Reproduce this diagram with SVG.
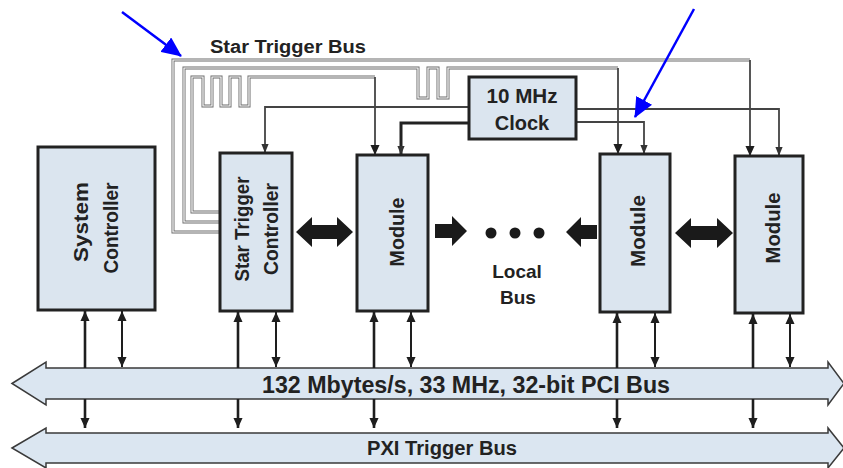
<svg xmlns="http://www.w3.org/2000/svg" width="843" height="468" viewBox="0 0 843 468">
<defs>
<marker id="ah" markerUnits="userSpaceOnUse" markerWidth="10" markerHeight="12" refX="11" refY="5" viewBox="0 0 11 10" orient="auto-start-reverse"><path d="M0,0 L11,5 L0,10 z" fill="#1e1e1e"/></marker>
<marker id="ahs" markerUnits="userSpaceOnUse" markerWidth="9" markerHeight="9" refX="10" refY="4" viewBox="0 0 10 8" orient="auto-start-reverse"><path d="M0,0 L10,4 L0,8 z" fill="#333"/></marker>
<marker id="blue" markerUnits="userSpaceOnUse" markerWidth="20" markerHeight="18" refX="19" refY="9" viewBox="0 0 20 18" orient="auto"><path d="M0,0 L20,9 L0,18 z" fill="#0000ff"/></marker>
</defs>
<style>
.box{fill:#dbe5ef;stroke:#222;stroke-width:3}
.bus{fill:#dbe6f1;stroke:#3a3a3a;stroke-width:1.5}
.t{font-family:"Liberation Sans",Arial,sans-serif;font-weight:bold;fill:#222}
.st{fill:none;stroke:#6a6a6a;stroke-width:3}
.sti{fill:none;stroke:#fff;stroke-width:1.2}
.drop{fill:none;stroke:#444;stroke-width:1.8;marker-end:url(#ah)}
.clk{fill:none;stroke:#444;stroke-width:1.8;marker-end:url(#ahs)}
.pci{fill:none;stroke:#1e1e1e;stroke-width:2.6}
.pci2{fill:none;stroke:#1e1e1e;stroke-width:2;marker-start:url(#ah);marker-end:url(#ah)}
.up{marker-end:url(#ah)}
.thick{fill:#1a1a1a}
.bl{fill:none;stroke:#0000ff;stroke-width:2.5;marker-end:url(#blue)}
</style>

<g id="bus-pci">
<path class="bus" d="M12,383.5 L46,362 V368 H828 V362 L844,383.5 L828,405 V399 H46 V405 Z"/>
<text class="t" x="466" y="393" font-size="23" text-anchor="middle" textLength="408" lengthAdjust="spacingAndGlyphs">132 Mbytes/s, 33 MHz, 32-bit PCI Bus</text>
</g>
<g id="bus-pxi">
<path class="bus" d="M12,448 L46,428 V433 H828 V428 L844,448 L828,468 V463 H46 V468 Z"/>
<text class="t" x="442" y="455" font-size="20" text-anchor="middle" textLength="150" lengthAdjust="spacingAndGlyphs">PXI Trigger Bus</text>
</g>

<g id="connectors">
<path class="st" d="M220,232 H173 V60 H750"/>
<path class="sti" d="M220,232 H173 V60 H750"/>
<path class="st" d="M220,222 H184 V68 H418 V98 H428 V68 H438 V98 H448 V68 H618"/>
<path class="sti" d="M220,222 H184 V68 H418 V98 H428 V68 H438 V98 H448 V68 H618"/>
<path class="st" d="M220,212 H192 V77 H203 V106 H212 V77 H221 V106 H230 V77 H240 V106 H249 V77 H375"/>
<path class="sti" d="M220,212 H192 V77 H203 V106 H212 V77 H221 V106 H230 V77 H240 V106 H249 V77 H375"/>
<path class="drop" d="M750,60 V156"/>
<path class="drop" d="M618,68 V154"/>
<path class="drop" d="M375,77 V155"/>
<path class="clk" d="M469,107 H265 V153"/>
<path class="clk" d="M469,123 H401 V155" style="stroke:#222;stroke-width:3"/>
<path class="clk" d="M576,109 H779 V156"/>
<path class="clk" d="M576,122 H644 V154"/>
<path class="pci up" d="M85,368 V311"/>
<path class="pci2" d="M122,311 V367"/>
<path class="pci up" d="M85,399 V428"/>
<path class="pci up" d="M238,368 V312"/>
<path class="pci2" d="M276,312 V367"/>
<path class="pci up" d="M238,399 V428"/>
<path class="pci up" d="M374,368 V312"/>
<path class="pci2" d="M411,312 V367"/>
<path class="pci up" d="M374,399 V428"/>
<path class="pci up" d="M617,368 V313"/>
<path class="pci2" d="M655,313 V367"/>
<path class="pci up" d="M617,399 V428"/>
<path class="pci up" d="M753,368 V314"/>
<path class="pci2" d="M790,314 V367"/>
<path class="pci up" d="M753,399 V428"/>
<path class="thick" d="M296,232 L312,217 V225 H337 V217 L353,232 L337,247 V239 H312 V247 Z"/>
<path class="thick" d="M435,224 H452 V216 L467,231 L452,246 V238 H435 Z"/>
<path class="thick" d="M597,225 H581 V217 L566,232 L581,247 V239 H597 Z"/>
<path class="thick" d="M675,233 L691,218 V226 H717 V218 L733,233 L717,248 V240 H691 V248 Z"/>
<circle class="thick" cx="491" cy="233" r="5.5"/>
<circle class="thick" cx="515" cy="233" r="5.5"/>
<circle class="thick" cx="539" cy="233" r="5.5"/>
<path class="bl" d="M122,12 L181,56"/>
<path class="bl" d="M694,9 L635,117"/>
</g>

<text class="t" x="210" y="53" font-size="18" textLength="156" lengthAdjust="spacingAndGlyphs">Star Trigger Bus</text>
<text class="t" x="517" y="278" font-size="19" text-anchor="middle">Local</text>
<text class="t" x="518" y="304" font-size="19" text-anchor="middle">Bus</text>

<g id="system-controller">
<rect class="box" x="38" y="147" width="117" height="163"/>
<text class="t" font-size="21" text-anchor="middle" textLength="80" lengthAdjust="spacingAndGlyphs" transform="translate(88,222) rotate(-90)">System</text>
<text class="t" font-size="21" text-anchor="middle" textLength="91" lengthAdjust="spacingAndGlyphs" transform="translate(118,228) rotate(-90)">Controller</text>
</g>
<g id="star-trigger-controller">
<rect class="box" x="220" y="153" width="72" height="158"/>
<text class="t" font-size="21" text-anchor="middle" textLength="105" lengthAdjust="spacingAndGlyphs" transform="translate(249,229) rotate(-90)">Star Trigger</text>
<text class="t" font-size="21" text-anchor="middle" textLength="92" lengthAdjust="spacingAndGlyphs" transform="translate(278,229) rotate(-90)">Controller</text>
</g>
<g id="module-1">
<rect class="box" x="357" y="155" width="71" height="156"/>
<text class="t" font-size="21" text-anchor="middle" textLength="69" lengthAdjust="spacingAndGlyphs" transform="translate(404,232) rotate(-90)">Module</text>
</g>
<g id="clock">
<rect class="box" x="469" y="77" width="107" height="62"/>
<text class="t" x="522" y="103" font-size="20" text-anchor="middle" textLength="71" lengthAdjust="spacingAndGlyphs">10 MHz</text>
<text class="t" x="522" y="130" font-size="20" text-anchor="middle">Clock</text>
</g>
<g id="module-2">
<rect class="box" x="600" y="154" width="70" height="158"/>
<text class="t" font-size="21" text-anchor="middle" textLength="72" lengthAdjust="spacingAndGlyphs" transform="translate(645,231) rotate(-90)">Module</text>
</g>
<g id="module-3">
<rect class="box" x="735" y="156" width="68" height="157"/>
<text class="t" font-size="21" text-anchor="middle" textLength="71" lengthAdjust="spacingAndGlyphs" transform="translate(780,228) rotate(-90)">Module</text>
</g>
</svg>
